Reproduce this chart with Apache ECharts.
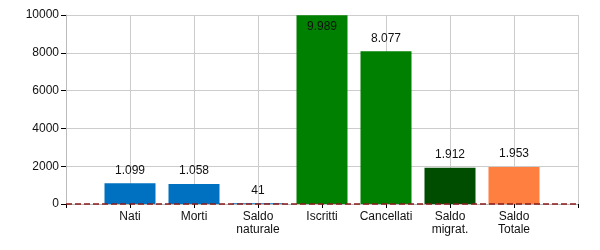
<!DOCTYPE html>
<html><head><meta charset="utf-8">
<script src="https://cdn.jsdelivr.net/npm/echarts@6/dist/echarts.min.js"></script>
<style>html,body{margin:0;padding:0;background:#fff}#c{width:600px;height:250px}</style>
</head><body><div id="c"></div>
<script>
const categories = ['', 'Nati', 'Morti', 'Saldo\nnaturale', 'Iscritti', 'Cancellati', 'Saldo\nmigrat.', 'Saldo\nTotale', ''];
const values = [null, 1099, 1058, 41, 9989, 8077, 1912, 1953, null];
const barColors = [null, '#0070C0', '#0070C0', '#0070C0', '#008000', '#008000', '#004D00', '#FF7F40', null];
const yTicks = [0, 2000, 4000, 6000, 8000, 10000];

const fmt = v => v.toLocaleString('it-IT');
const data = values.map((v, i) => v === null ? null : {
  value: v,
  itemStyle: { color: barColors[i] },
  label: v > 9500 ? { position: 'insideTop', distance: 5 } : {}
});

const chart = echarts.init(document.getElementById('c'));
chart.setOption({
  animation: false,
  grid: { left: 66, right: 22, top: 15, bottom: 46 },
  xAxis: {
    type: 'category', data: categories, boundaryGap: false,
    axisLine: { lineStyle: { color: '#bbb' } },
    axisTick: { show: true, length: 4, interval: 0, lineStyle: { color: '#000' } },
    axisLabel: { interval: 0, color: '#111', fontFamily: 'Liberation Sans', fontSize: 12, lineHeight: 13, margin: 6 },
    splitLine: { show: true, interval: 0, lineStyle: { color: '#ccc' } }
  },
  yAxis: {
    type: 'value', min: yTicks[0], max: yTicks[yTicks.length - 1], interval: 2000,
    axisLine: { show: true, lineStyle: { color: '#bbb' } },
    axisTick: { show: true, length: 5, lineStyle: { color: '#000' } },
    axisLabel: { color: '#111', fontFamily: 'Liberation Sans', fontSize: 12, margin: 7, formatter: v => String(v) },
    splitLine: { show: true, lineStyle: { color: '#ccc' } }
  },
  series: [{
    type: 'bar', data: data, barWidth: 51,
    label: { show: true, position: 'top', distance: 7, color: '#111', fontFamily: 'Liberation Sans', fontSize: 12,
      formatter: p => fmt(p.value) },
    markLine: {
      silent: true, symbol: 'none', label: { show: false },
      lineStyle: { color: '#8B1a1a', type: [6, 3], width: 1.5 },
      data: [{ yAxis: 0 }]
    }
  }]
});
</script></body></html>
